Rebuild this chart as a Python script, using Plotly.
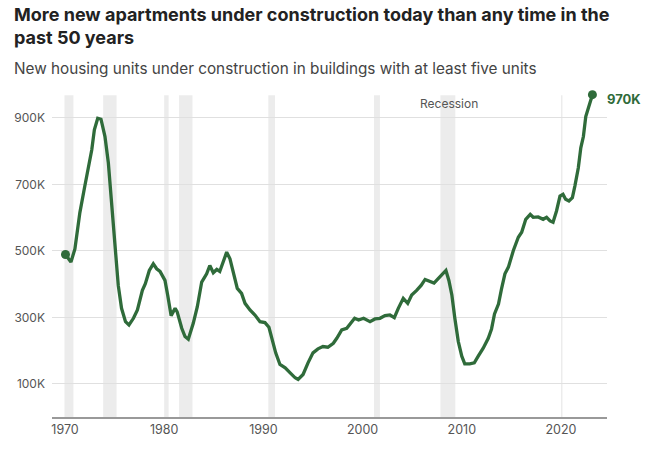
import plotly.graph_objects as go

# Units under construction, buildings with 5+ units (thousands)
years = [
    1970.05, 1970.3, 1970.6, 1971.0, 1971.5, 1972.0, 1972.35, 1972.7, 1972.96, 1973.3,
    1973.63, 1974.03, 1974.37, 1974.7, 1975.04, 1975.37, 1975.7, 1976.1, 1976.45, 1976.9,
    1977.3, 1977.8, 1978.1, 1978.5, 1978.9, 1979.24, 1979.58, 1980.08, 1980.35, 1980.7,
    1981.1, 1981.3, 1981.77, 1982.1, 1982.43, 1982.93, 1983.34, 1983.78, 1984.28, 1984.6,
    1984.95, 1985.3, 1985.6, 1985.96, 1986.3, 1986.63, 1986.97, 1987.37, 1987.8, 1988.15,
    1988.65, 1989.15, 1989.66, 1990.16, 1990.56, 1990.9, 1991.24, 1991.67, 1992.2, 1992.7,
    1993.2, 1993.5, 1994.0, 1994.5, 1995.0, 1995.5, 1996.0, 1996.5, 1997.05, 1997.4,
    1997.9, 1998.4, 1998.8, 1999.2, 1999.6, 2000.1, 2000.75, 2001.25, 2001.75, 2002.26,
    2002.76, 2003.2, 2003.6, 2004.1, 2004.55, 2004.95, 2005.45, 2005.9, 2006.3, 2006.8,
    2007.2, 2007.6, 2008.0, 2008.4, 2008.7, 2009.0, 2009.3, 2009.65, 2010.0, 2010.3,
    2010.8, 2011.26, 2011.66, 2012.16, 2012.67, 2013.0, 2013.3, 2013.7, 2014.0, 2014.35,
    2014.7, 2015.2, 2015.7, 2016.04, 2016.45, 2016.9, 2017.2, 2017.7, 2018.2, 2018.55,
    2018.9, 2019.2, 2019.55, 2019.9, 2020.2, 2020.47, 2020.8, 2021.15, 2021.4, 2021.75,
    2022.0, 2022.26, 2022.5, 2022.77, 2022.95, 2023.17,
]
units_k = [
    489, 480, 466, 506, 615, 695, 755, 804, 864, 899,
    896, 844, 765, 635, 506, 396, 327, 287, 277, 297,
    322, 381, 401, 441, 461, 446, 438, 411, 367, 305,
    327, 317, 267, 242, 234, 282, 332, 406, 431, 456,
    434, 444, 438, 471, 496, 476, 436, 387, 372, 342,
    322, 307, 287, 284, 270, 232, 193, 158, 148, 133,
    118, 113, 128, 163, 193, 205, 212, 210, 222, 237,
    262, 267, 282, 297, 292, 297, 287, 295, 297, 305,
    307, 299, 327, 357, 342, 367, 381, 396, 414, 408,
    403, 416, 428, 441, 411, 367, 297, 227, 183, 160,
    160, 163, 183, 207, 237, 265, 310, 340, 385, 431,
    451, 501, 541, 556, 595, 610, 601, 602, 595, 601,
    590, 586, 620, 665, 670, 655, 650, 660, 695, 750,
    810, 844, 904, 934, 949, 970,
]

# recession periods (start, end)
rec_start = [1969.95, 1973.85, 1980.0, 1981.5, 1990.5, 2001.15, 2007.85, 2020.0]
rec_end = [1970.85, 1975.2, 1980.45, 1982.85, 1991.17, 2001.75, 2009.35, 2020.15]

x_ticks = [1970, 1980, 1990, 2000, 2010, 2020]
y_ticks = [100, 300, 500, 700, 900]
y_labels = ["100K", "300K", "500K", "700K", "900K"]

green = "#2f6b3a"
font = "Inter"

fig = go.Figure()

for s, e in zip(rec_start, rec_end):
    fig.add_shape(type="rect", xref="x", yref="y", x0=s, x1=e, y0=0, y1=968,
                  fillcolor="#ececec", line_width=0, layer="below")

fig.add_trace(go.Scatter(x=years, y=units_k, mode="lines",
                         line=dict(color=green, width=3.3), hoverinfo="skip"))
fig.add_trace(go.Scatter(x=[years[0], years[-1]], y=[units_k[0], units_k[-1]],
                         mode="markers", marker=dict(color=green, size=9),
                         hoverinfo="skip", cliponaxis=False))

fig.add_annotation(x=years[-1], y=units_k[-1], xref="x", yref="y",
                   text="<b>%dK</b>" % units_k[-1], showarrow=False,
                   xanchor="left", yanchor="middle", xshift=13, yshift=-4,
                   font=dict(family=font, size=13, color=green))
fig.add_annotation(x=2008.7, y=942, xref="x", yref="y", text="Recession",
                   showarrow=False, xanchor="center", yanchor="middle",
                   font=dict(family=font, size=12, color="#555"))
fig.add_annotation(x=-0.072, y=1.28, xref="paper", yref="paper",
                   text="<b>More new apartments under construction today than any time in the<br>past 50 years</b>",
                   showarrow=False, xanchor="left", yanchor="top", align="left",
                   font=dict(family=font, size=18, color="#222"))
fig.add_annotation(x=-0.072, y=1.077, xref="paper", yref="paper",
                   text="New housing units under construction in buildings with at least five units",
                   showarrow=False, xanchor="left", yanchor="middle",
                   font=dict(family=font, size=15.3, color="#444"))

fig.update_layout(
    width=648, height=449,
    margin=dict(l=52, r=41, t=93, b=29),
    paper_bgcolor="white", plot_bgcolor="white",
    showlegend=False,
    xaxis=dict(range=[1968.69, 2024.64], tickvals=x_ticks, showgrid=False,
               zeroline=False, showline=True, linecolor="#999", linewidth=2,
               ticks="", tickfont=dict(family=font, size=12.5, color="#555")),
    yaxis=dict(range=[0, 975], tickvals=y_ticks, ticktext=y_labels,
               showgrid=True, gridcolor="#e0e0e0", gridwidth=1, zeroline=False,
               showline=False, ticks="", ticklabelstandoff=6,
               tickfont=dict(family=font, size=12, color="#555")),
)

# drop the page's default body margin so the figure sits at the window corner
fig.write_html("out.html", config={"displayModeBar": False},
               post_script="document.body.style.margin='0';")
